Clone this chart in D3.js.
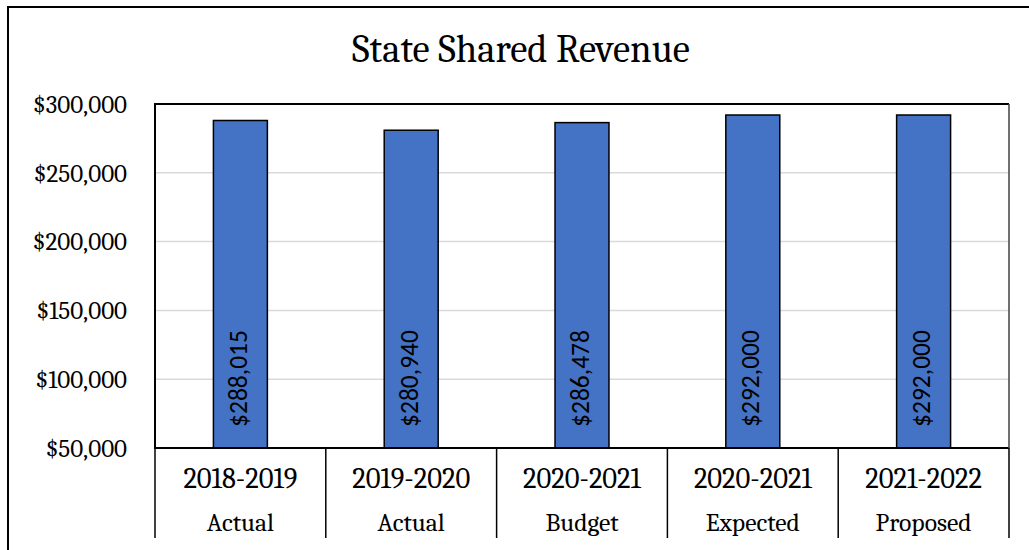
<!DOCTYPE html>
<html><head><meta charset="utf-8">
<script src="https://cdn.jsdelivr.net/npm/d3@7"></script>
<style>body{margin:0;background:#fff}svg{display:block}</style>
</head><body>
<svg id="c" width="1029" height="550"></svg>
<script>
const years = ["2018-2019","2019-2020","2020-2021","2020-2021","2021-2022"];
const kinds = ["Actual","Actual","Budget","Expected","Proposed"];
const values = [288015, 280940, 286478, 292000, 292000];
const yTicks = [50000,100000,150000,200000,250000,300000];
const title = "State Shared Revenue";

const svg = d3.select("#c");
const L=155, T=104, R=1009, B=448;
const serif = "Cambria, serif";
const sans = "Calibri, Carlito, Lato, sans-serif";

function sizeFor(str, family, base, w){
  const t = svg.append("text").attr("font-family",family).attr("font-size",base).text(str);
  const cw = t.node().getComputedTextLength(); t.remove();
  return base*w/cw;
}

svg.append("rect").attr("x",8).attr("y",7).attr("width",1100).attr("height",600)
  .attr("fill","#fff").attr("stroke","#000").attr("stroke-width",2);

const x = d3.scaleBand().domain(d3.range(values.length)).range([L,R]).paddingInner(0).paddingOuter(0);
const y = d3.scaleLinear().domain([50000,300000]).range([B,T]);

svg.append("g").selectAll("line").data(yTicks.filter(t=>t>50000 && t<300000)).join("line")
  .attr("x1",L).attr("x2",R).attr("y1",d=>y(d)).attr("y2",d=>y(d))
  .attr("stroke","#d9d9d9").attr("stroke-width",1.5);

const fmt = d=>"$"+d3.format(",")(d);
const tickFs = sizeFor("$300,000", serif, 19, 94);
svg.append("g").selectAll("text").data(yTicks).join("text")
  .attr("x",127).attr("y",d=>y(d)).attr("dy","0.35em").attr("text-anchor","end")
  .attr("font-family",serif).attr("font-size",tickFs).attr("fill","#000").text(fmt);

const bw = x.bandwidth()*0.316;
svg.append("g").selectAll("rect").data(values).join("rect")
  .attr("x",(d,i)=>x(i)+x.bandwidth()/2-bw/2).attr("width",bw)
  .attr("y",d=>y(d)).attr("height",d=>B-y(d))
  .attr("fill","#4472c4").attr("stroke","#000").attr("stroke-width",1.5);

const lblFs = sizeFor("$288,015", sans, 18, 97);
svg.append("g").selectAll("text").data(values).join("text")
  .attr("transform",(d,i)=>`translate(${x(i)+x.bandwidth()/2+6.5},${B-21}) rotate(-90)`)
  .attr("font-family",sans).attr("font-size",lblFs).attr("fill","#000").text(fmt);

svg.append("path").attr("d",`M${R},${T}H${L}V${B}H${R}`).attr("fill","none").attr("stroke","#000").attr("stroke-width",2);
svg.append("line").attr("x1",R).attr("x2",R).attr("y1",T).attr("y2",B).attr("stroke","#404040").attr("stroke-width",1.5);

svg.append("g").selectAll("line").data(d3.range(values.length+1)).join("line")
  .attr("x1",i=>i<values.length?x(i):R).attr("x2",i=>i<values.length?x(i):R)
  .attr("y1",B).attr("y2",538).attr("stroke","#000").attr("stroke-width",1.5);

const catFs = sizeFor("2018-2019", serif, 19, 114);
svg.append("g").selectAll("text").data(years).join("text")
  .attr("x",(d,i)=>x(i)+x.bandwidth()/2).attr("y",478).attr("dy","0.35em").attr("text-anchor","middle")
  .attr("font-family",serif).attr("font-size",catFs).attr("fill","#000").text(d=>d);
const kindFs = sizeFor("Proposed", serif, 19, 96);
svg.append("g").selectAll("text").data(kinds).join("text")
  .attr("x",(d,i)=>x(i)+x.bandwidth()/2).attr("y",522).attr("dy","0.35em").attr("text-anchor","middle")
  .attr("font-family",serif).attr("font-size",kindFs).attr("fill","#000").text(d=>d);

const titleFs = sizeFor(title, serif, 32, 338);
svg.append("text").attr("x",(352+690)/2).attr("y",62).attr("text-anchor","middle")
  .attr("font-family",serif).attr("font-size",titleFs).attr("fill","#000").text(title);
</script>
</body></html>
